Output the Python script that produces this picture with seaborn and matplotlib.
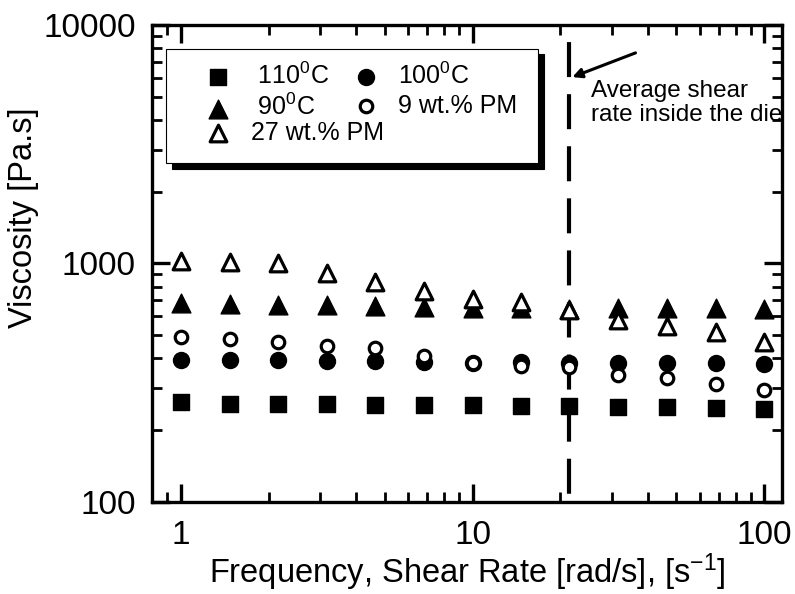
import numpy as np
import pandas as pd
import matplotlib
matplotlib.use("Agg")
import matplotlib.pyplot as plt
from matplotlib.lines import Line2D
from matplotlib.ticker import LogLocator, FixedLocator, NullFormatter
import seaborn as sns

# Shear rate / frequency values (rad/s, 1/s)
rate = [1, 1.47, 2.15, 3.16, 4.64, 6.81, 10, 14.7, 21.5, 31.6, 46.4, 68.1, 100]

# Viscosity (Pa.s) for each material / temperature
visc_110C = [262, 258, 258, 257, 256, 255, 254, 253, 252, 250, 249, 247, 245]
visc_100C = [393, 393, 392, 391, 389, 387, 384, 385, 382, 384, 384, 383, 379]
visc_90C = [680, 677, 672, 667, 661, 656, 650, 648, 645, 652, 648, 650, 646]
visc_9pm = [491, 484, 470, 452, 441, 408, 382, 370, 368, 340, 332, 311, 296]
visc_27pm = [1020, 1010, 1000, 910, 840, 766, 712, 687, 637, 577, 546, 515, 468]

labels = [" 110$^0$C", "100$^0$C", " 90$^0$C", "9 wt.% PM", "27 wt.% PM"]
avg_die_rate = 21.5

x_ticks = [1, 10, 100]
y_ticks = [100, 1000, 10000]

sns.set_style("ticks")
plt.rcParams["font.family"] = ["Liberation Sans", "DejaVu Sans"]
plt.rcParams["mathtext.fontset"] = "custom"
plt.rcParams["mathtext.rm"] = "Liberation Sans"
plt.rcParams["mathtext.it"] = "Liberation Sans:italic"
plt.rcParams["mathtext.default"] = "regular"
for key in ("text.color", "axes.labelcolor", "xtick.color", "ytick.color",
            "axes.edgecolor"):
    plt.rcParams[key] = "black"

fig = plt.figure(figsize=(7.95, 5.94), dpi=100)
ax = fig.add_axes([0.1918, 0.1549, 0.7918, 0.8030])

series = [
    (visc_110C, "s", 11.0, "black", 1.0),
    (visc_100C, "o", 11.5, "black", 1.0),
    (visc_90C, "^", 13.5, "black", 1.0),
    (visc_9pm, "o", 9.0, "white", 2.3),
    (visc_27pm, "^", 12.0, "white", 2.3),
]

handles = []
for vals, mk, ms, fc, lw in series:
    df = pd.DataFrame({"rate": rate, "visc": vals})
    sns.scatterplot(data=df, x="rate", y="visc", marker=mk, s=ms ** 2,
                    color="black", facecolor=fc, edgecolor="black",
                    linewidth=lw, ax=ax, zorder=3, legend=False)
    coll = ax.collections[-1]
    coll.set_facecolor(fc)
    coll.set_edgecolor("black")
    coll.set_linewidth(lw)
    handles.append(coll)

ax.set_xscale("log")
ax.set_yscale("log")
ax.set_xlim(0.8, 115)
ax.set_ylim(100, 10000)

# Average shear rate in the die
ax.plot([avg_die_rate, avg_die_rate], [10000, 100], color="black", lw=3.0,
        ls=(8.4, (8.4, 4.1)), solid_capstyle="butt", zorder=2)
ax.annotate("", xy=(22.0, 6050), xytext=(36.2, 7640),
            arrowprops=dict(arrowstyle="-|>,head_length=0.55,head_width=0.28",
                            lw=2.2, color="black", shrinkA=0, shrinkB=0),
            zorder=6)
ax.text(25.4, 5870, "Average shear\nrate inside the die", fontsize=17.5,
        ha="left", va="top", linespacing=1.1, clip_on=True, color="black")

ax.xaxis.set_major_locator(FixedLocator(x_ticks))
ax.yaxis.set_major_locator(FixedLocator(y_ticks))
ax.set_xticklabels([str(v) for v in x_ticks])
ax.set_yticklabels([str(v) for v in y_ticks])
ax.xaxis.set_minor_locator(LogLocator(base=10, subs=np.arange(2, 10)))
ax.yaxis.set_minor_locator(LogLocator(base=10, subs=np.arange(2, 10)))
ax.xaxis.set_minor_formatter(NullFormatter())
ax.yaxis.set_minor_formatter(NullFormatter())

ax.tick_params(which="both", direction="in", top=True, right=True,
               color="black", labelcolor="black")
ax.tick_params(which="major", length=13, width=2.4, labelsize=24)
ax.tick_params(which="minor", length=7, width=2.0)
ax.tick_params(axis="x", which="major", pad=13)
ax.tick_params(axis="y", which="major", pad=12)
for sp in ax.spines.values():
    sp.set_linewidth(2.4)
    sp.set_color("black")

ax.set_xlabel("Frequency, Shear Rate [rad/s], [s$^{-1}$]", fontsize=23.5,
              color="black")
ax.set_ylabel("Viscosity [Pa.s]", fontsize=23.5, color="black")
ax.xaxis.set_label_coords(0.5, -0.103)
ax.yaxis.set_label_coords(-0.18, 0.595)

# Legend: framed block with the first two rows in two columns,
# the third entry overlaid on the left column of the last row
blank = Line2D([], [], linestyle="none", marker="")
leg_kw = dict(loc="upper left", bbox_to_anchor=(0.0214, 0.950),
              borderaxespad=0, fontsize=18, handlelength=3.1,
              handletextpad=-0.25, labelspacing=0.2, borderpad=0.55,
              scatterpoints=1, labelcolor="black")
leg_a = ax.legend([handles[0], handles[2], blank, handles[1], handles[3], blank],
                  [labels[0], labels[2], " ", labels[1], labels[3] + " ", " "],
                  ncol=2, columnspacing=-0.1, frameon=True, fancybox=False,
                  shadow={"ox": 4.5, "oy": -4.0, "facecolor": "black",
                          "edgecolor": "black", "alpha": 1},
                  **leg_kw)
leg_a.get_frame().set_edgecolor("black")
leg_a.get_frame().set_linewidth(0.8)
leg_a.get_frame().set_alpha(1)
ax.add_artist(leg_a)
ax.legend([blank, blank, handles[4]], [" ", " ", labels[4]], ncol=1,
          frameon=False, **leg_kw)

fig.savefig("out.png", dpi=100)
